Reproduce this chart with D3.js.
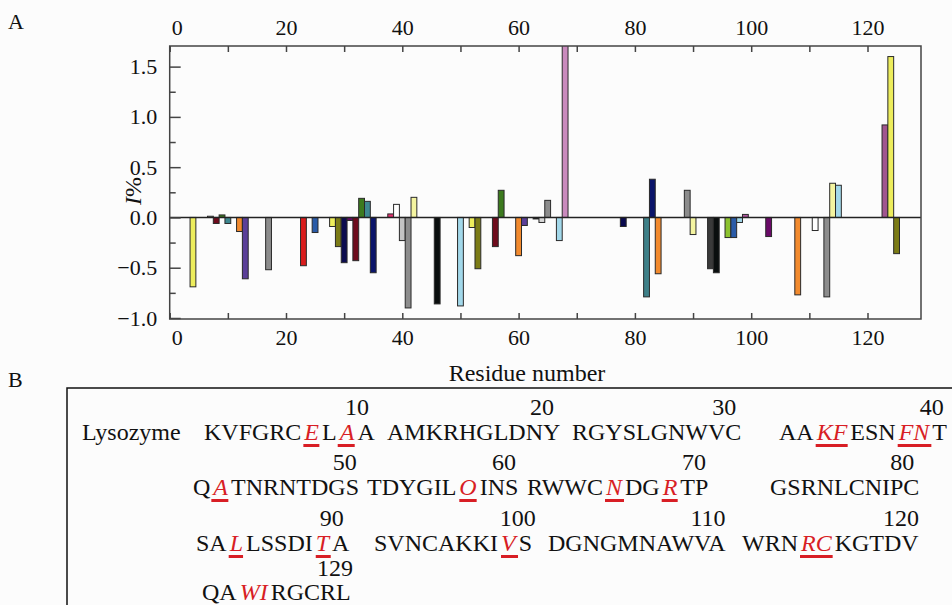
<!DOCTYPE html>
<html>
<head>
<meta charset="utf-8">
<script src="https://cdn.jsdelivr.net/npm/d3@7"></script>
<style>
  body { margin: 0; background: #fcfcfc; }
  svg { display: block; font-family: "Liberation Serif", "Times New Roman", serif; }
</style>
</head>
<body>
<div class="chart"></div>
<script>
// residue numbers and I% values
const residues = [4, 7, 8, 9, 10, 12, 13, 17, 23, 25, 28, 29, 30, 31, 32, 33, 34, 35, 38, 39,
  40, 41, 42, 46, 50, 52, 53, 56, 57, 60, 61, 63, 64, 65, 67, 68, 78, 82, 83, 84,
  89, 90, 93, 94, 96, 97, 98, 99, 103, 108, 111, 113, 114, 115, 123, 124, 125];
const values = [-0.69, 0.012, -0.06, 0.025, -0.06, -0.14, -0.61, -0.52, -0.48, -0.15, -0.09, -0.29, -0.45, -0.03, -0.43, 0.19, 0.16, -0.55, 0.035, 0.13,
  -0.23, -0.90, 0.20, -0.86, -0.88, -0.10, -0.51, -0.29, 0.27, -0.38, -0.08, -0.015, -0.05, 0.17, -0.23, 1.72, -0.09, -0.79, 0.38, -0.56,
  0.27, -0.17, -0.51, -0.55, -0.20, -0.20, -0.05, 0.03, -0.19, -0.77, -0.13, -0.79, 0.34, 0.32, 0.92, 1.60, -0.36];
const xTicks = [0, 10, 20, 30, 40, 50, 60, 70, 80, 90, 100, 110, 120];
const yTicks = [-1.0, -0.5, 0.0, 0.5, 1.0, 1.5];
const yMinorTicks = [-0.75, -0.25, 0.25, 0.75, 1.25];

// bar fills (style, one per bar)
const barFill = ["#eded5c", "#d8d8d8", "#6e0b1c", "#3c7a1e", "#3e8890", "#f28a2e", "#5b3f98", "#8c8c8c", "#d91c1c", "#2a5ba8",
  "#eded5c", "#7b7b16", "#0b0b4e", "#6a0a68", "#6e0b1c", "#3c7a1e", "#3e8890", "#0a146a", "#e0306e", "#ffffff",
  "#c4c4c4", "#8c8c8c", "#f4f4a0", "#0a0e0e", "#a2d8ea", "#eded5c", "#7b7b16", "#6e0b1c", "#3c7a1e", "#f28a2e",
  "#5b3f98", "#0a0e0e", "#d8d8d8", "#8c8c8c", "#a2d8ea", "#c98abd", "#0a0a4e", "#3e8088", "#0a146a", "#f28a2e",
  "#8c8c8c", "#f4f4a0", "#3a3a3a", "#0a0e0e", "#8cc22e", "#2a5ba8", "#a2d8ea", "#b05aa0", "#6a0a68", "#f28a2e",
  "#ffffff", "#8c8c8c", "#f4f4a0", "#a2d8ea", "#a0558f", "#eded5c", "#7b7b16"];

// panel B
const seqName = "Lysozyme";
const seqBlocks = ["KVFGRCELAA", "AMKRHGLDNY", "RGYSLGNWVC", "AAKFESNFNT",
  "QATNRNTDGS", "TDYGILOINS", "RWWCNDGRTP", "GSRNLCNIPC",
  "SALLSSDITA", "SVNCAKKIVS", "DGNGMNAWVA", "WRNRCKGTDV",
  "QAWIRGCRL"];
const blockNumbers = ["10", "20", "30", "40", "50", "60", "70", "80", "90", "100", "110", "120", "129"];
const mutated = [7, 9, 33, 34, 38, 39, 42, 57, 65, 68, 83, 89, 99, 114, 115, 123, 124];

// layout
const w = 952, h = 605;
const plot = { left: 169.7, right: 921, top: 46, bottom: 319 };
const blockX = [204, 387, 572, 779, 193, 367, 527, 770, 196, 374, 548, 742, 202];
const rowBase = [440, 495, 551, 600];
const numBase = [415, 470, 526, 576];
const red = "#d81e25";

const svg = d3.select(".chart").append("svg")
  .attr("width", w)
  .attr("height", h);

const x = d3.scaleLinear().domain([0, 129.2]).range([plot.left, plot.right]);
const y = d3.scaleLinear().domain([-1.01, 1.705]).range([plot.bottom, plot.top]);

svg.append("clipPath").attr("id", "clip")
  .append("rect")
  .attr("x", plot.left).attr("y", plot.top)
  .attr("width", plot.right - plot.left).attr("height", plot.bottom - plot.top);

// bars
const bw = x(1) - x(0);
svg.append("g")
  .attr("clip-path", "url(#clip)")
  .selectAll("rect")
  .data(residues)
  .enter().append("rect")
  .attr("x", d => x(d) - bw / 2)
  .attr("width", bw)
  .attr("y", (d, i) => y(Math.max(values[i], 0)))
  .attr("height", (d, i) => Math.abs(y(values[i]) - y(0)))
  .attr("fill", (d, i) => barFill[i])
  .attr("stroke", "#2a2a2a")
  .attr("stroke-width", 1);

// zero line
svg.append("line")
  .attr("x1", plot.left).attr("x2", plot.right)
  .attr("y1", y(0)).attr("y2", y(0))
  .attr("stroke", "#222")
  .attr("stroke-width", 1.5);

function styleAxis(g) {
  g.select(".domain").remove();
  g.selectAll(".tick line").attr("stroke", "#444").attr("stroke-width", 1.5);
  g.selectAll("text").attr("font-family", "Liberation Serif, Times New Roman, serif")
    .attr("font-size", 22).attr("fill", "#111");
}

const xFmt = d => (d % 20 === 0 ? d : "");

svg.append("g")
  .attr("transform", `translate(0,${plot.bottom})`)
  .call(d3.axisBottom(x).tickValues(xTicks).tickSize(-6).tickPadding(10).tickFormat(xFmt))
  .call(styleAxis)
  .selectAll("text").attr("dx", d => (d === 0 ? 7 : 0));

svg.append("g")
  .attr("transform", `translate(0,${plot.top})`)
  .call(d3.axisTop(x).tickValues(xTicks).tickSize(-6).tickPadding(11).tickFormat(xFmt))
  .call(styleAxis)
  .selectAll("text").attr("dx", d => (d === 0 ? 7 : 0));

svg.append("g")
  .attr("transform", `translate(${plot.left},0)`)
  .call(d3.axisLeft(y).tickValues(yTicks).tickSize(-11).tickPadding(12.5).tickFormat(d3.format(".1f")))
  .call(styleAxis);

svg.append("g")
  .attr("transform", `translate(${plot.left},0)`)
  .call(d3.axisLeft(y).tickValues(yMinorTicks).tickSize(-6).tickFormat(""))
  .call(styleAxis);

// frame
svg.append("rect")
  .attr("x", plot.left).attr("y", plot.top)
  .attr("width", plot.right - plot.left).attr("height", plot.bottom - plot.top)
  .attr("fill", "none")
  .attr("stroke", "#444")
  .attr("stroke-width", 1.5);

// axis titles
svg.append("text")
  .attr("x", 527).attr("y", 381)
  .attr("text-anchor", "middle")
  .attr("font-size", 24)
  .attr("fill", "#111")
  .text("Residue number");

const yl = svg.append("text")
  .attr("transform", "translate(141,191) rotate(-90)")
  .attr("text-anchor", "middle")
  .attr("font-size", 24)
  .attr("fill", "#111");
yl.append("tspan").attr("font-style", "italic").text("I");
yl.append("tspan").text("%");

// panel letters
svg.append("text").attr("x", 8).attr("y", 29).attr("font-size", 22).attr("fill", "#111").text("A");
svg.append("text").attr("x", 8).attr("y", 387).attr("font-size", 22).attr("fill", "#111").text("B");

// panel B box
svg.append("rect")
  .attr("x", 67).attr("y", 388)
  .attr("width", 900).attr("height", 300)
  .attr("fill", "none")
  .attr("stroke", "#111")
  .attr("stroke-width", 1.5);

svg.append("text")
  .attr("x", 82).attr("y", rowBase[0])
  .attr("font-size", 24)
  .attr("fill", "#111")
  .text(seqName);

// helper text to measure single letters
const probe = svg.append("text").attr("font-size", 24).attr("x", -100).attr("y", -100);
function charWidth(ch) {
  probe.text(ch);
  return probe.node().getComputedTextLength();
}

seqBlocks.forEach(function(block, b) {
  const row = Math.floor(b / 4);
  const base = rowBase[row];
  // split block into runs of normal / mutated residues
  const runs = [];
  block.split("").forEach(function(ch, i) {
    const hit = mutated.includes(b * 10 + i + 1);
    const last = runs[runs.length - 1];
    if (last && last.hit === hit) last.text += ch;
    else runs.push({ text: ch, hit: hit, start: i });
  });

  const t = svg.append("text")
    .attr("x", blockX[b]).attr("y", base)
    .attr("font-size", 24)
    .attr("fill", "#111");
  const spans = runs.map(function(r, k) {
    const ts = t.append("tspan").text(r.text);
    if (k > 0) ts.attr("dx", 3);
    if (r.hit) ts.attr("font-style", "italic").attr("fill", red);
    return ts;
  });

  // underline the mutated runs (last row sits on the picture edge)
  runs.forEach(function(r, k) {
    if (!r.hit || row === 3) return;
    const bb = spans[k].node().getBBox();
    svg.append("rect")
      .attr("x", bb.x).attr("y", base + 4)
      .attr("width", bb.width).attr("height", 3)
      .attr("fill", red);
  });

  const tb = t.node().getBBox();
  const endX = tb.x + tb.width;
  svg.append("text")
    .attr("x", endX - charWidth(block[block.length - 1]) - 1)
    .attr("y", numBase[row])
    .attr("text-anchor", "middle")
    .attr("font-size", 24)
    .attr("fill", "#111")
    .text(blockNumbers[b]);
});
probe.remove();
</script>
</body>
</html>
